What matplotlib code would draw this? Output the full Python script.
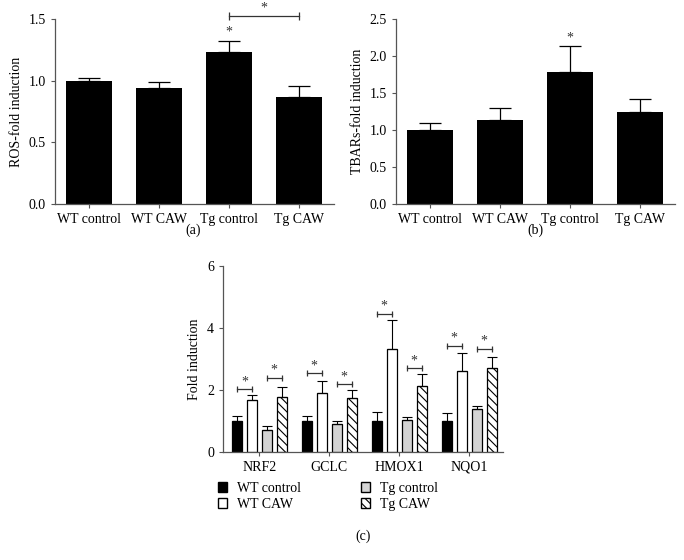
import numpy as np
import matplotlib.pyplot as plt
from matplotlib.patches import Patch

plt.rcParams["font.family"] = ["Liberation Serif", "DejaVu Serif"]
plt.rcParams["font.size"] = 10
plt.rcParams["hatch.linewidth"] = 0.8

# Panel (a) and (b) data
groups = ["WT control", "WT CAW", "Tg control", "Tg CAW"]
ros_mean = [1.00, 0.94, 1.23, 0.87]
ros_err = [0.02, 0.05, 0.09, 0.09]
tbars_mean = [1.00, 1.14, 1.79, 1.24]
tbars_err = [0.09, 0.15, 0.34, 0.18]

# Panel (c) data
genes = ["NRF2", "GCLC", "HMOX1", "NQO1"]
wt_ctrl = [1.00, 1.00, 1.00, 1.00]
wt_ctrl_err = [0.17, 0.15, 0.28, 0.27]
wt_caw = [1.68, 1.90, 3.31, 2.61]
wt_caw_err = [0.15, 0.39, 0.95, 0.58]
tg_ctrl = [0.72, 0.90, 1.03, 1.37]
tg_ctrl_err = [0.12, 0.11, 0.11, 0.11]
tg_caw = [1.77, 1.75, 2.14, 2.70]
tg_caw_err = [0.33, 0.24, 0.38, 0.36]
# significance bracket heights (WT ctrl vs WT CAW, Tg ctrl vs Tg CAW)
sig_wt = [2.03, 2.54, 4.46, 3.42]
sig_tg = [2.39, 2.19, 2.70, 3.33]

spine_col = "#555555"


def style_axes(ax):
    for s in ["top", "right"]:
        ax.spines[s].set_visible(False)
    for s in ["left", "bottom"]:
        ax.spines[s].set_color(spine_col)
        ax.spines[s].set_linewidth(0.9)
    ax.tick_params(direction="out", length=3, width=0.8, color=spine_col)


def bracket(ax, x1, x2, y, cap=6):
    ax.plot([x1, x2], [y, y], color="#333333", lw=0.9, marker="|",
            markersize=cap, markeredgewidth=0.9, clip_on=False)


fig = plt.figure(figsize=(6.84, 5.6), dpi=100)

# ---- (a) ROS
ax1 = fig.add_axes([0.0804, 0.636, 0.408, 0.330])
x = np.arange(len(groups))
ax1.bar(x, ros_mean, width=0.66, color="black")
ax1.errorbar(x, ros_mean, yerr=[np.zeros(4), ros_err], fmt="none",
             ecolor="black", elinewidth=0.9, capsize=8, capthick=0.9)
ax1.set_xlim(-0.48, 3.5)
ax1.set_ylim(0, 1.5)
ax1.set_yticks([0.0, 0.5, 1.0, 1.5])
ax1.set_yticklabels(["0.0", "0.5", "1.0", "1.5"])
ax1.set_xticks(x)
ax1.set_xticklabels(groups)
ax1.set_ylabel("ROS-fold induction")
ax1.text(2, ros_mean[2] + ros_err[2] + 0.025, "*", ha="center", va="bottom",
         color="#333333")
bracket(ax1, 2, 3, 1.527)
ax1.text(2.5, 1.54, "*", ha="center", va="bottom", color="#333333",
         clip_on=False)
style_axes(ax1)
fig.text(0.282, 0.589, "(a)", ha="center", va="center")

# ---- (b) TBARs
ax2 = fig.add_axes([0.579, 0.636, 0.408, 0.330])
ax2.bar(x, tbars_mean, width=0.66, color="black")
ax2.errorbar(x, tbars_mean, yerr=[np.zeros(4), tbars_err], fmt="none",
             ecolor="black", elinewidth=0.9, capsize=8, capthick=0.9)
ax2.set_xlim(-0.48, 3.5)
ax2.set_ylim(0, 2.5)
ax2.set_yticks([0.0, 0.5, 1.0, 1.5, 2.0, 2.5])
ax2.set_yticklabels(["0.0", "0.5", "1.0", "1.5", "2.0", "2.5"])
ax2.set_xticks(x)
ax2.set_xticklabels(groups)
ax2.set_ylabel("TBARs-fold induction")
ax2.text(2, tbars_mean[2] + tbars_err[2] + 0.03, "*", ha="center",
         va="bottom", color="#333333")
style_axes(ax2)
fig.text(0.783, 0.589, "(b)", ha="center", va="center")

# ---- (c) gene expression
ax3 = fig.add_axes([0.326, 0.193, 0.409, 0.332])
xg = np.arange(len(genes))
step = 0.214
w = 0.143
series = [
    (wt_ctrl, wt_ctrl_err, "black", None),
    (wt_caw, wt_caw_err, "white", None),
    (tg_ctrl, tg_ctrl_err, "#d4d4d4", None),
    (tg_caw, tg_caw_err, "white", "\\\\\\\\"),
]
for i, (vals, errs, col, hatch) in enumerate(series):
    pos = xg + (i - 1.5) * step
    ax3.bar(pos, vals, width=w, color=col, edgecolor="black", linewidth=0.9,
            hatch=hatch)
    ax3.errorbar(pos, vals, yerr=[np.zeros(4), errs], fmt="none",
                 ecolor="black", elinewidth=0.8, capsize=3.5, capthick=0.8)

for g in range(len(genes)):
    x1 = g - 1.5 * step
    x2 = g - 0.5 * step
    bracket(ax3, x1, x2, sig_wt[g], cap=5)
    ax3.text((x1 + x2) / 2, sig_wt[g] + 0.03, "*", ha="center", va="bottom",
             color="#333333")
    x3 = g + 0.5 * step
    x4 = g + 1.5 * step
    bracket(ax3, x3, x4, sig_tg[g], cap=5)
    ax3.text((x3 + x4) / 2, sig_tg[g] + 0.03, "*", ha="center", va="bottom",
             color="#333333")

ax3.set_xlim(-0.52, 3.48)
ax3.set_ylim(0, 6)
ax3.set_yticks([0, 2, 4, 6])
ax3.set_xticks(xg)
ax3.set_xticklabels(genes)
ax3.set_ylabel("Fold induction")
style_axes(ax3)

handles = [
    Patch(facecolor="black", edgecolor="black", label="WT control"),
    Patch(facecolor="white", edgecolor="black", label="WT CAW"),
    Patch(facecolor="#d4d4d4", edgecolor="black", label="Tg control"),
    Patch(facecolor="white", edgecolor="black", hatch="\\\\\\\\",
          label="Tg CAW"),
]
fig.legend(handles=handles, loc="upper left", bbox_to_anchor=(0.318, 0.14),
           ncol=2, frameon=False, handlelength=0.7, handleheight=0.7,
           handletextpad=0.7, columnspacing=4.3, labelspacing=0.25,
           borderpad=0, borderaxespad=0)
fig.text(0.531, 0.043, "(c)", ha="center", va="center")

fig.savefig("out.png", dpi=100)
